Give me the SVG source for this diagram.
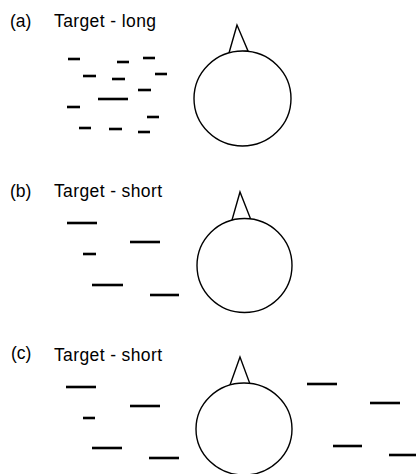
<svg xmlns="http://www.w3.org/2000/svg" width="416" height="474" viewBox="0 0 416 474">
<style>
text{font-family:"Liberation Sans",Arial,sans-serif;font-size:17.5px;fill:#000}
.d{stroke:#000;stroke-width:2.6;fill:none}
.h{stroke:#000;stroke-width:1.4;fill:#fff}
</style>
<rect width="416" height="474" fill="#fff"/>
<g id="panel-a">
<text x="10" y="27">(a)</text>
<text x="54" y="27" textLength="102">Target - long</text>
<g id="dashes-a" class="d">
<line x1="68" y1="59" x2="80" y2="59"/>
<line x1="117" y1="62" x2="129" y2="62"/>
<line x1="143" y1="58" x2="155" y2="58"/>
<line x1="83" y1="76" x2="96" y2="76"/>
<line x1="112" y1="79" x2="125" y2="79"/>
<line x1="155" y1="74" x2="167" y2="74"/>
<line x1="138" y1="90" x2="151" y2="90"/>
<line x1="98" y1="99" x2="128" y2="99"/>
<line x1="67" y1="107" x2="80" y2="107"/>
<line x1="147" y1="117" x2="159" y2="117"/>
<line x1="79" y1="128" x2="91" y2="128"/>
<line x1="109" y1="129" x2="122" y2="129"/>
<line x1="138" y1="132" x2="150" y2="132"/>
</g>
<g id="head-a" class="h">
<polygon points="237,25 229,53 248,51"/>
<ellipse cx="242.5" cy="98.5" rx="48.5" ry="47.5"/>
</g>
</g>
<g id="panel-b">
<text x="10" y="197">(b)</text>
<text x="54" y="197" textLength="108">Target - short</text>
<g id="dashes-b" class="d">
<line x1="67" y1="223" x2="97" y2="223"/>
<line x1="130" y1="242" x2="160" y2="242"/>
<line x1="83" y1="254" x2="96" y2="254"/>
<line x1="92" y1="285" x2="123" y2="285"/>
<line x1="150" y1="295" x2="179" y2="295"/>
</g>
<g id="head-b" class="h">
<polygon points="240,192 232,220 251,220"/>
<ellipse cx="244.5" cy="265.5" rx="47.5" ry="47"/>
</g>
</g>
<g id="panel-c">
<text x="11" y="359">(c)</text>
<text x="54" y="361" textLength="108">Target - short</text>
<g id="dashes-c" class="d">
<line x1="66" y1="387" x2="96" y2="387"/>
<line x1="130" y1="406" x2="160" y2="406"/>
<line x1="83" y1="418" x2="95" y2="418"/>
<line x1="92" y1="448" x2="122" y2="448"/>
<line x1="149" y1="458" x2="179" y2="458"/>
<line x1="307" y1="384" x2="337" y2="384"/>
<line x1="370" y1="403" x2="400" y2="403"/>
<line x1="333" y1="446" x2="362" y2="446"/>
<line x1="389" y1="455" x2="416" y2="455"/>
</g>
<g id="head-c" class="h">
<polygon points="240,357 230,385 250,384"/>
<ellipse cx="244" cy="429" rx="48" ry="46"/>
</g>
</g>
</svg>
